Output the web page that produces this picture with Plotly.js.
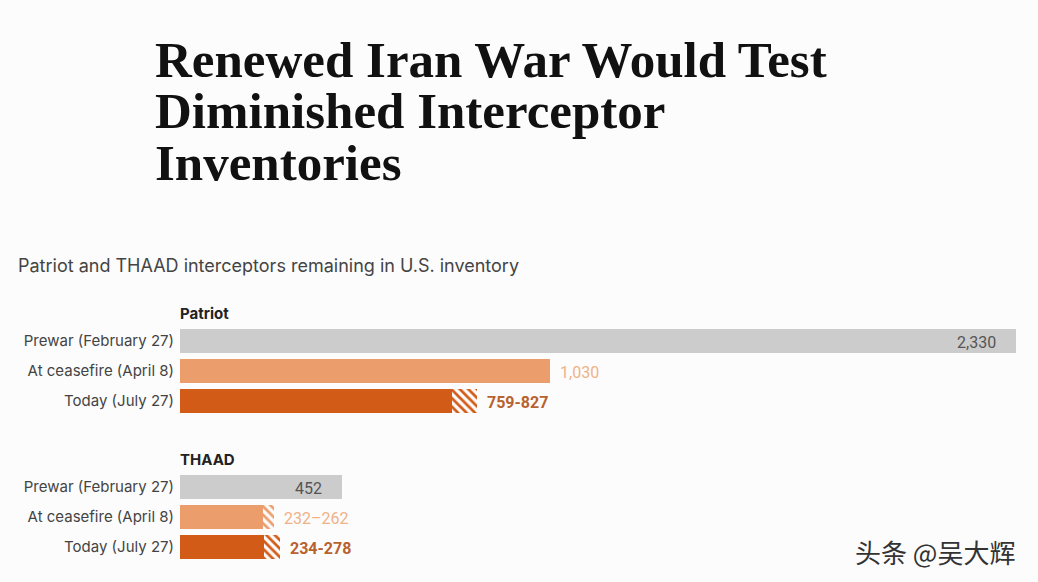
<!DOCTYPE html>
<html>
<head>
<meta charset="utf-8">
<script src="https://cdn.plot.ly/plotly-3.0.1.min.js"></script>
<style>html,body{margin:0;padding:0;background:#fcfcfc;}#chart{width:1038px;height:582px;}</style>
</head>
<body>
<div id="chart"></div>
<script>
// ---- data ----
const groups = ["Patriot", "THAAD"];
const rowLabels = ["Prewar (February 27)", "At ceasefire (April 8)", "Today (July 27)"];
const patriotLow  = [2330, 1030, 759];
const patriotHigh = [2330, 1030, 827];
const thaadLow    = [452, 232, 234];
const thaadHigh   = [452, 262, 278];
const valueLabels = [["2,330", "1,030", "759-827"], ["452", "232–262", "234-278"]];
const titleLines = ["Renewed Iran War Would Test", "Diminished Interceptor", "Inventories"];
const subtitle = "Patriot and THAAD interceptors remaining in U.S. inventory";
const watermark = "头条 @吴大辉";

// ---- layout helpers ----
const W = 1038, H = 582;
const mL = 180, mR = 22, mT = 296, mB = 20;
const plotW = W - mL - mR, plotH = H - mT - mB;
const groupGap = 4.867;
const yMin = -1.5, yMax = 7.367;
const pxToPaperX = px => (px - mL) / plotW;
const pxToPaperY = py => (H - mB - py) / plotH;

const sans = "Inter, 'Open Sans', sans-serif";
const colors = ["#cccccc", "#eb9e6c", "#d15b17"];
const labelColors = ["#555555", "#efb287", "#b8622e"];
const lows = [patriotLow, thaadLow];
const highs = [patriotHigh, thaadHigh];

const solidX = [], solidY = [], solidC = [];
const hatchX = [], hatchY = [], hatchC = [];
const tickvals = [], ticktext = [];
const annotations = [];

groups.forEach((g, gi) => {
  const base = gi * groupGap;
  annotations.push({
    text: "<b>" + g + "</b>", xref: "paper", yref: "y", x: pxToPaperX(178), y: base - 0.93,
    xanchor: "left", yanchor: "middle", showarrow: false,
    font: {family: sans, size: 15, color: "#222"}
  });
  rowLabels.forEach((lab, ri) => {
    const y = base + ri;
    tickvals.push(y); ticktext.push(lab);
    const lo = lows[gi][ri], hi = highs[gi][ri];
    solidX.push(lo); solidY.push(y); solidC.push(colors[ri]);
    hatchX.push(hi - lo); hatchY.push(y); hatchC.push(colors[ri]);
    const inside = ri === 0;
    annotations.push({
      text: ri === 2 ? "<b>" + valueLabels[gi][ri] + "</b>" : valueLabels[gi][ri],
      xref: "x", yref: "y", x: hi, y: y, yshift: -1,
      xanchor: inside ? "right" : "left", yanchor: "middle",
      xshift: inside ? -18 : 8, showarrow: false,
      font: {family: "Roboto, sans-serif", size: 16, color: labelColors[ri]}
    });
  });
});

// title lines
const titleCenters = [60, 111, 163];
titleLines.forEach((t, i) => {
  annotations.push({
    text: "<b>" + t + "</b>", xref: "paper", yref: "paper",
    x: pxToPaperX(153), y: pxToPaperY(titleCenters[i]),
    xanchor: "left", yanchor: "middle", showarrow: false,
    font: {family: "'Liberation Serif', serif", size: 51, color: "#111"}
  });
});
annotations.push({
  text: subtitle, xref: "paper", yref: "paper",
  x: pxToPaperX(16), y: pxToPaperY(265), xanchor: "left", yanchor: "middle",
  showarrow: false, font: {family: sans, size: 18, color: "#444"}
});
annotations.push({
  text: watermark, xref: "paper", yref: "paper",
  x: pxToPaperX(853), y: pxToPaperY(551), xanchor: "left", yanchor: "middle",
  showarrow: false, font: {family: "'Noto Sans CJK SC', sans-serif", size: 26, color: "#333"}
});

const traces = [
  {type: "bar", orientation: "h", x: solidX, y: solidY, width: 0.83,
   marker: {color: solidC, line: {width: 0}}, hoverinfo: "skip", showlegend: false},
  {type: "bar", orientation: "h", x: hatchX, y: hatchY, width: 0.83,
   marker: {color: hatchC, line: {width: 0},
            pattern: {shape: "\\", fgcolor: hatchC, bgcolor: "#fcfcfc", fillmode: "replace", size: 6, solidity: 0.45}},
   hoverinfo: "skip", showlegend: false}
];

const layout = {
  width: W, height: H,
  margin: {l: mL, r: mR, t: mT, b: mB, pad: 0},
  paper_bgcolor: "#fcfcfc", plot_bgcolor: "#fcfcfc",
  barmode: "stack", bargap: 0,
  showlegend: false,
  xaxis: {range: [0, 2330], showgrid: false, zeroline: false, showticklabels: false, showline: false, fixedrange: true},
  yaxis: {range: [yMax, yMin], tickvals: tickvals, ticktext: ticktext, showgrid: false, zeroline: false,
          ticks: "", ticklabelstandoff: 5, showline: false, automargin: false, fixedrange: true,
          tickfont: {family: sans, size: 15, color: "#444"}},
  annotations: annotations
};

Plotly.newPlot("chart", traces, layout, {displayModeBar: false, staticPlot: true});
</script>
</body>
</html>
